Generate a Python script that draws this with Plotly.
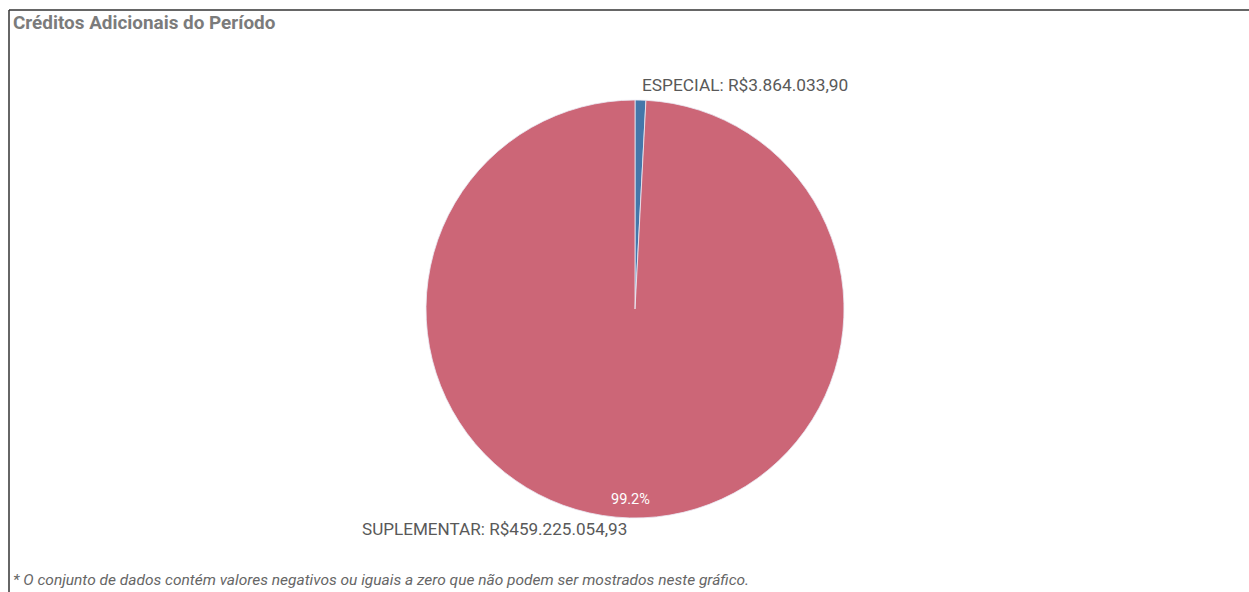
import plotly.graph_objects as go

categories = ["ESPECIAL", "SUPLEMENTAR"]
values = [3864033.90, 459225054.93]
colors = ["#4477AA", "#CC6677"]

title_text = "Créditos Adicionais do Período"
footnote = "* O conjunto de dados contém valores negativos ou iguais a zero que não podem ser mostrados neste gráfico."


def brl(v):
    s = f"{v:,.2f}"
    return "R$" + s.replace(",", "X").replace(".", ",").replace("X", ".")


total = sum(values)
W, H = 1249, 592
cx, cy, r = 635, 309, 209

fig = go.Figure()
fig.add_trace(go.Pie(
    labels=categories,
    values=values,
    sort=False,
    direction="clockwise",
    rotation=0,
    marker=dict(colors=colors, line=dict(color="rgba(235,235,245,0.8)", width=1)),
    textinfo="none",
    hoverinfo="label+value+percent",
    showlegend=False,
    domain=dict(x=[(cx - r) / W, (cx + r) / W], y=[(H - cy - r) / H, (H - cy + r) / H]),
))

font_family = "Roboto, 'Noto Sans', sans-serif"
annotations = [
    dict(text=f"<b>{title_text}</b>", x=11 / W, y=1 - 22 / H, xref="paper", yref="paper",
         xanchor="left", yanchor="middle", showarrow=False,
         font=dict(family=font_family, size=18.9, color="#7b7b7b")),
    dict(text=f"{categories[0]}: {brl(values[0])}", x=640 / W, y=1 - 85 / H, xref="paper", yref="paper",
         xanchor="left", yanchor="middle", showarrow=False,
         font=dict(family=font_family, size=17.3, color="#595959")),
    dict(text=f"{categories[1]}: {brl(values[1])}", x=629 / W, y=1 - 529 / H, xref="paper", yref="paper",
         xanchor="right", yanchor="middle", showarrow=False,
         font=dict(family=font_family, size=17.1, color="#595959")),
    dict(text=f"{values[1] / total * 100:.1f}%", x=630 / W, y=1 - 499 / H, xref="paper", yref="paper",
         xanchor="center", yanchor="middle", showarrow=False,
         font=dict(family=font_family, size=14.5, color="#ffffff")),
    dict(text=f"<i>{footnote}</i>", x=11 / W, y=1 - 580 / H, xref="paper", yref="paper",
         xanchor="left", yanchor="middle", showarrow=False,
         font=dict(family=font_family, size=15.5, color="#666666")),
]

shapes = [
    dict(type="line", xref="paper", yref="paper", x0=9 / W, x1=1, y0=1 - 10 / H, y1=1 - 10 / H,
         line=dict(color="#333333", width=1.5)),
    dict(type="line", xref="paper", yref="paper", x0=9 / W, x1=9 / W, y0=0, y1=1 - 10 / H,
         line=dict(color="#333333", width=1.5)),
]

fig.update_layout(
    width=W, height=H,
    margin=dict(l=0, r=0, t=0, b=0),
    paper_bgcolor="white", plot_bgcolor="white",
    annotations=annotations, shapes=shapes,
)

fig.write_html("out.html")
